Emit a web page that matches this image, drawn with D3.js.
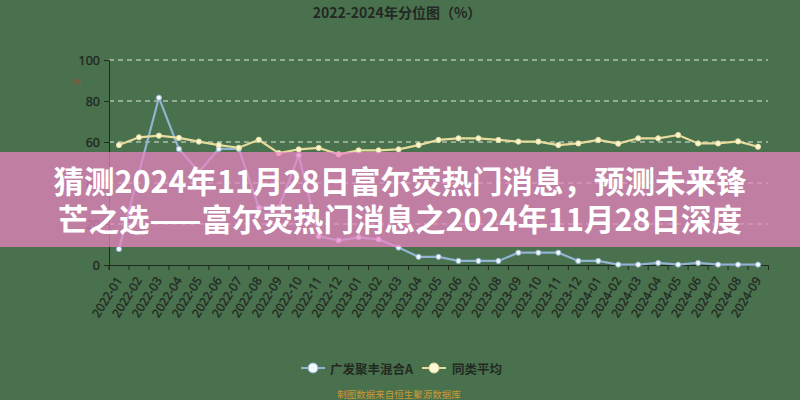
<!DOCTYPE html>
<html><head><meta charset="utf-8">
<script src="https://cdn.jsdelivr.net/npm/d3@7/dist/d3.min.js"></script>
<style>
html,body{margin:0;padding:0;background:#4a714e;}
svg{display:block;font-family:"Noto Sans CJK SC","Noto Sans",sans-serif;}
</style></head>
<body>
<svg id="c" width="800" height="400"></svg>
<script>
const months = ["2022-01","2022-02","2022-03","2022-04","2022-05","2022-06","2022-07","2022-08","2022-09","2022-10","2022-11","2022-12",
"2023-01","2023-02","2023-03","2023-04","2023-05","2023-06","2023-07","2023-08","2023-09","2023-10","2023-11","2023-12",
"2024-01","2024-02","2024-03","2024-04","2024-05","2024-06","2024-07","2024-08","2024-09"];
const fundValues = [7.8,45,81.6,56.6,45.5,56.6,56.6,28,28,53.5,14,12,13.5,12.5,8.5,4,4,2,2,2,6,6,6,2,2,0.2,0.2,1,0.2,1,0.2,0.2,0.2];
const avgValues = [58.5,62.3,63.1,62,60.2,58.5,57.2,61.1,54.6,56.4,57.1,54,55.9,55.9,56.4,58.5,61,61.8,61.8,61,60.2,60.2,58.5,59.3,61,59.2,61.8,61.8,63.4,59.3,59.3,60.3,57.7];
const yTicks = [0,20,40,60,80,100];
const seriesNames = ["广发聚丰混合A","同类平均"];
const title = "2022-2024年分位图（%）";
const source = "制图数据来自恒生聚源数据库";
const bannerLines = ["猜测2024年11月28日富尔荧热门消息，预测未来锋","芒之选——富尔荧热门消息之2024年11月28日深度"];

const svg = d3.select("#c");
const W = 800, H = 400;
const ink = "#222a22";
svg.append("rect").attr("width",W).attr("height",H).attr("fill","#4a714e");

const x = d3.scaleBand().domain(months).range([109,768]);
const y = d3.scaleLinear().domain([0,100]).range([265,60]);
const cx = d => x(d) + x.bandwidth()/2;

// title
svg.append("text").attr("x",397).attr("y",18).attr("text-anchor","middle")
  .attr("font-size",14).attr("font-weight","bold").attr("fill","#232823").text(title);

// red mark
svg.append("text").attr("x",77).attr("y",85).attr("text-anchor","middle")
  .attr("font-size",9).attr("fill","#c0392b").text("※");

// grid
svg.append("g").selectAll("line").data(yTicks.filter(t=>t>0)).join("line")
  .attr("x1",109).attr("x2",768).attr("y1",d=>y(d)).attr("y2",d=>y(d))
  .attr("stroke","#dfe8df").attr("stroke-width",1).attr("stroke-dasharray","5,4");

// y axis
const ya = svg.append("g").attr("transform","translate(109,0)").call(d3.axisLeft(y).tickValues(yTicks).tickSize(5).tickPadding(4));
ya.select(".domain").attr("stroke",ink);
ya.selectAll(".tick line").attr("stroke",ink);
ya.selectAll("text").attr("font-size",12.5).attr("fill",ink).attr("stroke",ink).attr("stroke-width",0.35)
  .attr("font-family","'Noto Sans',sans-serif");

// x axis
const xa = svg.append("g").attr("transform","translate(0,265)").call(d3.axisBottom(x).tickSize(5).tickSizeOuter(5));
xa.select(".domain").attr("stroke",ink);
xa.selectAll(".tick line").attr("stroke",ink).attr("transform",`translate(${-x.bandwidth()/2},0)`);
xa.selectAll("text").attr("font-size",12).attr("fill",ink).attr("stroke",ink).attr("stroke-width",0.35)
  .attr("font-family","'Noto Sans',sans-serif")
  .attr("text-anchor","end").attr("dy","0.35em")
  .attr("transform","translate(0,13) rotate(-58)").attr("y",0).attr("x",0);

// lines
const fundColor = "#93b3d3", avgColor = "#e7dc9c";
const line = d3.line().x((d,i)=>cx(months[i])).y(d=>y(d));
svg.append("path").datum(fundValues).attr("d",line).attr("fill","none").attr("stroke",fundColor).attr("stroke-width",2.2);
svg.append("path").datum(avgValues).attr("d",line).attr("fill","none").attr("stroke",avgColor).attr("stroke-width",2.2);
svg.append("g").selectAll("circle").data(fundValues).join("circle")
  .attr("cx",(d,i)=>cx(months[i])).attr("cy",d=>y(d)).attr("r",2.6)
  .attr("fill","#f4f8fc").attr("stroke",fundColor).attr("stroke-width",1);
svg.append("g").selectAll("circle").data(avgValues).join("circle")
  .attr("cx",(d,i)=>cx(months[i])).attr("cy",d=>y(d)).attr("r",2.6)
  .attr("fill","#fbf6d8").attr("stroke",avgColor).attr("stroke-width",1);

// legend
const legend = [{name:seriesNames[0],color:fundColor,fill:"#f4f8fc",x:301,tx:330},{name:seriesNames[1],color:avgColor,fill:"#fbf6d8",x:422,tx:452}];
const lg = svg.append("g").selectAll("g").data(legend).join("g");
lg.append("line").attr("x1",d=>d.x).attr("x2",d=>d.x+24).attr("y1",368).attr("y2",368).attr("stroke",d=>d.color).attr("stroke-width",2);
lg.append("circle").attr("cx",d=>d.x+12).attr("cy",368).attr("r",5).attr("fill",d=>d.fill).attr("stroke",d=>d.color).attr("stroke-width",1);
lg.append("text").attr("x",d=>d.tx).attr("y",368).attr("dominant-baseline","central")
  .attr("font-size",12.5).attr("font-weight","bold").attr("fill",ink).text(d=>d.name);

// source
svg.append("text").attr("x",399).attr("y",398).attr("text-anchor","middle")
  .attr("font-size",9.5).attr("fill","#c99a35").text(source);

// banner
svg.append("rect").attr("x",0).attr("y",152).attr("width",W).attr("height",95)
  .attr("fill","rgb(237,131,196)").attr("fill-opacity",0.72);
svg.append("g").selectAll("text").data(bannerLines).join("text")
  .attr("x",400).attr("y",(d,i)=>180+i*37.5).attr("text-anchor","middle").attr("dominant-baseline","central")
  .attr("font-size",30.5).attr("font-weight","bold").attr("fill","#ffffff").text(d=>d);
</script>
</body></html>
